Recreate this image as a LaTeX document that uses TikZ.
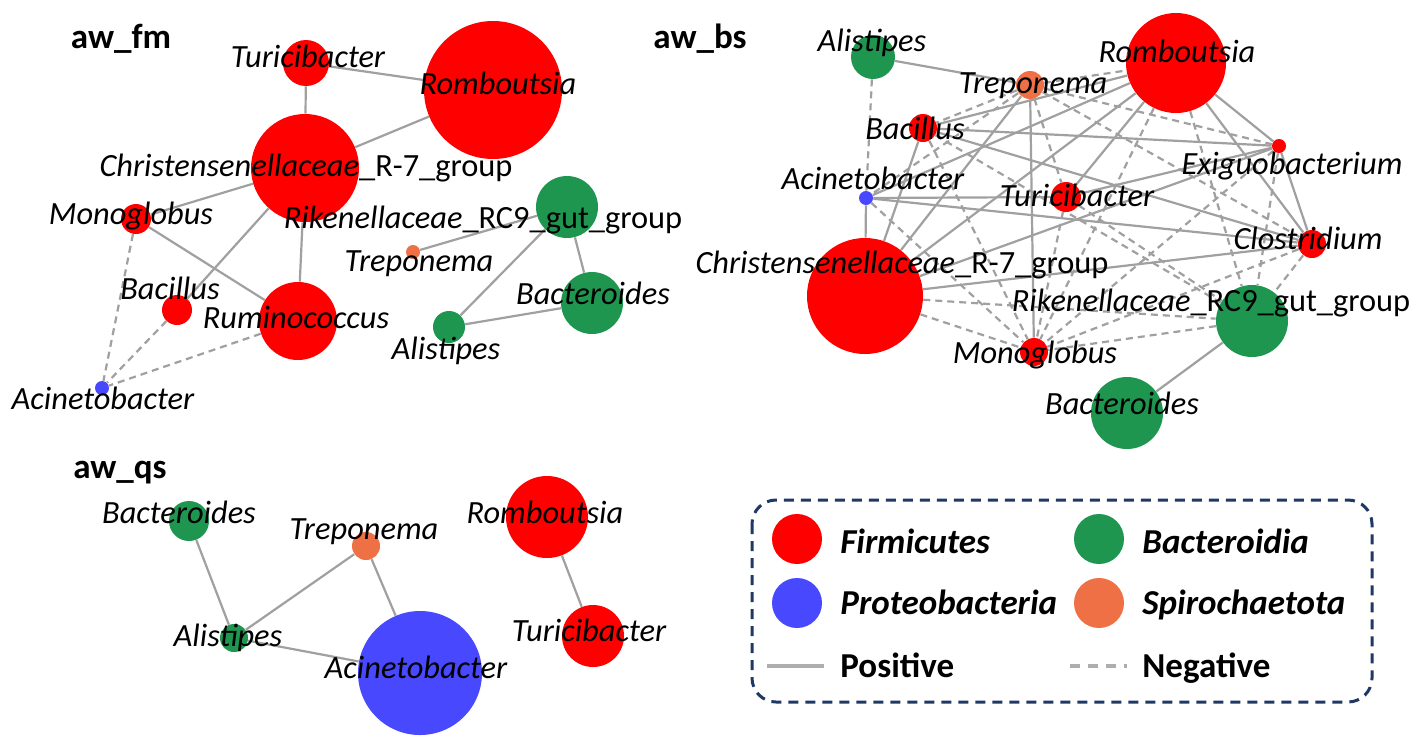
\documentclass[tikz,border=0pt]{standalone}
\usepackage{fontspec}
\setmainfont{Carlito}
\usetikzlibrary{backgrounds}
\definecolor{cFir}{RGB}{255,0,0}
\definecolor{cBac}{RGB}{30,150,80}
\definecolor{cPro}{RGB}{72,72,255}
\definecolor{cSpi}{RGB}{240,112,70}
\definecolor{cEdge}{RGB}{160,160,160}
\definecolor{cNavy}{RGB}{31,56,100}
\begin{document}
\begin{tikzpicture}[x=0.5pt,y=-0.5pt,
  nd/.style={circle,draw=none,inner sep=0pt,minimum size=#1 pt},
  fir/.style={nd=#1,fill=cFir},
  bac/.style={nd=#1,fill=cBac},
  pro/.style={nd=#1,fill=cPro},
  spi/.style={nd=#1,fill=cSpi},
  lab/.style={inner sep=0pt,anchor=mid,font=\fontsize{16.2}{19}\selectfont\itshape},
  ttl/.style={inner sep=0pt,anchor=mid,font=\fontsize{17.5}{21}\selectfont\bfseries},
  leg/.style={inner sep=0pt,anchor=base west,font=\fontsize{17.5}{21}\selectfont\bfseries\itshape},
  legu/.style={inner sep=0pt,anchor=base west,font=\fontsize{17.5}{21}\selectfont\bfseries},
  posedge/.style={draw=cEdge,line width=1.1pt},
  negedge/.style={draw=cEdge,line width=1.1pt,dash pattern=on 3.5pt off 2.5pt},
  legline/.style={draw=cEdge!85,line width=1.6pt},
]
\useasboundingbox (0,0) rectangle (1418,745);
\begin{scope}[on background layer]
\fill[white] (0,0) rectangle (1418,745);
\end{scope}

% ---------------- aw_fm ----------------
\node[ttl] (tFm) at (121,44) {aw\_fm};
\node[fir=23] (fmTur) at (306,63) {};
\node[fir=69] (fmRom) at (493,90) {};
\node[fir=54] (fmChr) at (305,168) {};
\node[fir=15] (fmMon) at (136,219) {};
\node[bac=31] (fmRik) at (567,207) {};
\node[spi=7]  (fmTre) at (413,252) {};
\node[fir=15] (fmBac) at (177,310) {};
\node[fir=39] (fmRum) at (298,321) {};
\node[bac=31] (fmBct) at (592,303) {};
\node[bac=16] (fmAli) at (449,327) {};
\node[pro=7]  (fmAci) at (102,388) {};
\begin{scope}[on background layer]
\draw[posedge] (fmTur) -- (fmRom);
\draw[posedge] (fmTur) -- (fmChr);
\draw[posedge] (fmRom) -- (fmChr);
\draw[posedge] (fmChr) -- (fmMon);
\draw[posedge] (fmChr) -- (fmBac);
\draw[posedge] (fmChr) -- (fmRum);
\draw[posedge] (fmMon) -- (fmRum);
\draw[posedge] (fmRik) -- (fmTre);
\draw[posedge] (fmRik) -- (fmAli);
\draw[posedge] (fmRik) -- (fmBct);
\draw[posedge] (fmBct) -- (fmAli);
\draw[negedge] (fmMon) -- (fmAci);
\draw[negedge] (fmBac) -- (fmAci);
\draw[negedge] (fmRum) -- (fmAci);
\end{scope}
\node[lab] (fmTurL) at (308,63) {Turicibacter};
\node[lab] (fmRomL) at (498,90) {Romboutsia};
\node[lab] (fmChrL) at (306,172) {Christensenellaceae\upshape\_R-7\_group};
\node[lab] (fmMonL) at (131,220) {Monoglobus};
\node[lab] (fmRikL) at (483,224) {Rikenellaceae\upshape\_RC9\_gut\_group};
\node[lab] (fmTreL) at (419,267) {Treponema};
\node[lab] (fmBacL) at (170,295) {Bacillus};
\node[lab] (fmRumL) at (296,324) {Ruminococcus};
\node[lab] (fmBctL) at (593,300) {Bacteroides};
\node[lab] (fmAliL) at (446,355) {Alistipes};
\node[lab] (fmAciL) at (103,405) {Acinetobacter};

% ---------------- aw_bs ----------------
\node[ttl] (tBs) at (700,44) {aw\_bs};
\node[bac=22] (bsAli) at (873,57) {};
\node[spi=14] (bsTre) at (1030,85) {};
\node[fir=50] (bsRom) at (1176,63) {};
\node[fir=14] (bsBac) at (923,128) {};
\node[fir=7]  (bsExi) at (1279,146) {};
\node[pro=7]  (bsAci) at (866,198) {};
\node[fir=15] (bsTur) at (1066,197) {};
\node[fir=14] (bsClo) at (1312,244) {};
\node[fir=58] (bsChr) at (865,296) {};
\node[bac=36] (bsRik) at (1252,321) {};
\node[fir=14] (bsMon) at (1034,352) {};
\node[bac=36] (bsBct) at (1127,413) {};
\begin{scope}[on background layer]
% positive
\draw[posedge] (bsAli) -- (bsTre);
\draw[posedge] (bsAci) -- (bsChr);
\draw[posedge] (bsAci) -- (bsTur);
\draw[posedge] (bsAci) -- (bsClo);
\draw[posedge] (bsAci) -- (bsRom);
\draw[posedge] (bsBac) -- (bsExi);
\draw[posedge] (bsBac) -- (bsClo);
\draw[posedge] (bsBac) -- (bsChr);
\draw[posedge] (bsBac) -- (bsRom);
\draw[posedge] (bsTre) -- (bsMon);
\draw[posedge] (bsTre) -- (bsChr);
\draw[posedge] (bsRom) -- (bsChr);
\draw[posedge] (bsRom) -- (bsTur);
\draw[posedge] (bsRom) -- (bsClo);
\draw[posedge] (bsRom) -- (bsExi);
\draw[posedge] (bsTur) -- (bsExi);
\draw[posedge] (bsChr) -- (bsExi);
\draw[posedge] (bsChr) -- (bsClo);
\draw[posedge] (bsExi) -- (bsClo);
\draw[posedge] (bsRik) -- (bsBct);
% negative
\draw[negedge] (bsAli) -- (bsAci);
\draw[negedge] (bsTre) -- (bsRom);
\draw[negedge] (bsTre) -- (bsExi);
\draw[negedge] (bsTre) -- (bsBac);
\draw[negedge] (bsTre) -- (bsAci);
\draw[negedge] (bsTre) -- (bsTur);
\draw[negedge] (bsTre) -- (bsClo);
\draw[negedge] (bsRom) -- (bsRik);
\draw[negedge] (bsRom) -- (bsMon);
\draw[negedge] (bsExi) -- (bsRik);
\draw[negedge] (bsExi) -- (bsMon);
\draw[negedge] (bsAci) -- (bsMon);
\draw[negedge] (bsChr) -- (bsMon);
\draw[negedge] (bsChr) -- (bsRik);
\draw[negedge] (bsBac) -- (bsMon);
\draw[negedge] (bsBac) -- (bsRik);
\draw[negedge] (bsTur) -- (bsMon);
\draw[negedge] (bsTur) -- (bsRik);
\draw[negedge] (bsClo) -- (bsMon);
\draw[negedge] (bsClo) -- (bsRik);
\draw[negedge] (bsRik) -- (bsMon);
\end{scope}
\node[lab] (bsAliL) at (872,47) {Alistipes};
\node[lab] (bsTreL) at (1033,89) {Treponema};
\node[lab] (bsRomL) at (1177,58) {Romboutsia};
\node[lab] (bsBacL) at (915,135) {Bacillus};
\node[lab] (bsExiL) at (1292,170) {Exiguobacterium};
\node[lab] (bsAciL) at (873,185) {Acinetobacter};
\node[lab] (bsTurL) at (1077,202) {Turicibacter};
\node[lab] (bsCloL) at (1308,245) {Clostridium};
\node[lab] (bsChrL) at (902,269) {Christensenellaceae\upshape\_R-7\_group};
\node[lab] (bsRikL) at (1211,307) {Rikenellaceae\upshape\_RC9\_gut\_group};
\node[lab] (bsMonL) at (1035,359) {Monoglobus};
\node[lab] (bsBctL) at (1122,410) {Bacteroides};

% ---------------- aw_qs ----------------
\node[ttl] (tQs) at (120,474) {aw\_qs};
\node[bac=20] (qsBct) at (189,521) {};
\node[spi=14] (qsTre) at (366,546) {};
\node[fir=41] (qsRom) at (547,517) {};
\node[bac=14] (qsAli) at (234,638) {};
\node[pro=62] (qsAci) at (420,673) {};
\node[fir=31] (qsTur) at (593,636) {};
\begin{scope}[on background layer]
\draw[posedge] (qsBct) -- (qsAli);
\draw[posedge] (qsAli) -- (qsTre);
\draw[posedge] (qsTre) -- (qsAci);
\draw[posedge] (qsAli) -- (qsAci);
\draw[posedge] (qsRom) -- (qsTur);
\end{scope}
\node[lab] (qsBctL) at (179,519) {Bacteroides};
\node[lab] (qsTreL) at (364,535) {Treponema};
\node[lab] (qsRomL) at (545,519) {Romboutsia};
\node[lab] (qsAliL) at (228,642) {Alistipes};
\node[lab] (qsAciL) at (416,674) {Acinetobacter};
\node[lab] (qsTurL) at (589,637) {Turicibacter};

% ---------------- legend ----------------
\draw[cNavy,line width=1.5pt,dash pattern=on 5pt off 3.5pt,rounded corners=12pt] (752,500) rectangle (1372,702);
\node[fir=25] (lgFir) at (797,539) {};
\node[bac=25] (lgBac) at (1099,539) {};
\node[pro=25] (lgPro) at (797,603) {};
\node[spi=25] (lgSpi) at (1099,603) {};
\node[leg] (lgFirL) at (840,553) {Firmicutes};
\node[leg] (lgBacL) at (1142,553) {Bacteroidia};
\node[leg] (lgProL) at (840,614) {Proteobacteria};
\node[leg] (lgSpiL) at (1142,614) {Spirochaetota};
\coordinate (lgPa) at (767,666);
\coordinate (lgPb) at (824,666);
\coordinate (lgNa) at (1070,666);
\coordinate (lgNb) at (1127,666);
\draw[legline] (lgPa) -- (lgPb);
\draw[legline,dash pattern=on 5pt off 4pt] (lgNa) -- (lgNb);
\node[legu] (lgPosL) at (840,677) {Positive};
\node[legu] (lgNegL) at (1142,677) {Negative};
\end{tikzpicture}
\end{document}
